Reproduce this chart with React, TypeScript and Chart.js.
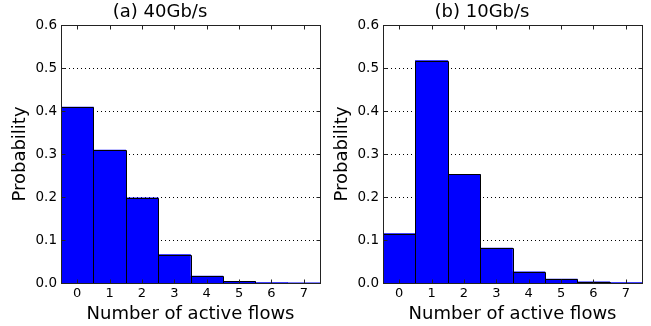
import React, { useEffect, useRef } from 'react';
import { Chart, registerables } from 'chart.js';

Chart.register(...registerables);

const categories = ['0', '1', '2', '3', '4', '5', '6', '7'];
const probs40 = [0.409, 0.309, 0.198, 0.066, 0.016, 0.004, 0.001, 0.0005];
const probs10 = [0.115, 0.517, 0.253, 0.081, 0.026, 0.009, 0.003, 0.001];
const yTicks = [0, 0.1, 0.2, 0.3, 0.4, 0.5, 0.6];
const titles = ['(a) 40Gb/s', '(b) 10Gb/s'];
const xTitle = 'Number of active flows';
const yTitle = 'Probability';

const FONT = "'DejaVu Sans', sans-serif";

const framePlugin = {
  id: 'frame',
  beforeDatasetsDraw(chart: any) {
    const { ctx, chartArea: a, scales } = chart;
    const y = scales.y;
    ctx.save();
    ctx.strokeStyle = '#000';
    ctx.lineWidth = 1;
    ctx.setLineDash([1, 3]);
    y.ticks.forEach((t: any) => {
      if (t.value <= 0 || t.value >= yTicks[yTicks.length - 1]) return;
      const py = Math.round(y.getPixelForValue(t.value)) + 0.5;
      ctx.beginPath();
      ctx.moveTo(a.left, py);
      ctx.lineTo(a.right, py);
      ctx.stroke();
    });
    ctx.restore();
  },
  afterDatasetsDraw(chart: any) {
    const { ctx, chartArea: a, scales } = chart;
    const x = scales.x;
    const y = scales.y;
    ctx.save();
    // bar outlines
    ctx.strokeStyle = '#000';
    ctx.lineWidth = 1;
    const meta = chart.getDatasetMeta(0);
    meta.data.forEach((bar: any) => {
      const p = bar.getProps(['x', 'y', 'width', 'base'], true);
      const l = Math.round(p.x - p.width / 2) + 0.5;
      const r = Math.round(p.x + p.width / 2) + 0.5;
      const t = Math.round(p.y) + 0.5;
      const b = Math.round(p.base) + 0.5;
      ctx.beginPath();
      ctx.moveTo(l, b);
      ctx.lineTo(l, t);
      ctx.lineTo(r, t);
      ctx.lineTo(r, b);
      ctx.stroke();
    });
    // frame
    ctx.strokeStyle = '#222';
    const L = Math.round(a.left) + 0.5;
    const R = Math.round(a.right) + 0.5;
    const T = Math.round(a.top) + 0.5;
    const B = Math.round(a.bottom) + 0.5;
    ctx.strokeRect(L, T, R - L, B - T);
    // inward ticks
    const tl = 4;
    categories.forEach((_, i) => {
      const px = Math.round(x.getPixelForValue(i)) + 0.5;
      ctx.beginPath();
      ctx.moveTo(px, B);
      ctx.lineTo(px, B - tl);
      ctx.moveTo(px, T);
      ctx.lineTo(px, T + tl);
      ctx.stroke();
    });
    yTicks.forEach((v) => {
      const py = Math.round(y.getPixelForValue(v)) + 0.5;
      ctx.beginPath();
      ctx.moveTo(L, py);
      ctx.lineTo(L + tl, py);
      ctx.moveTo(R, py);
      ctx.lineTo(R - tl, py);
      ctx.stroke();
    });
    ctx.restore();
  },
};

function makeConfig(values: number[], title: string, padRight: number): any {
  return {
    type: 'bar',
    data: {
      labels: categories,
      datasets: [
        {
          data: values,
          backgroundColor: '#0000ff',
          borderWidth: 0,
          barPercentage: 1,
          categoryPercentage: 1,
        },
      ],
    },
    options: {
      animation: false,
      responsive: false,
      events: [],
      layout: { padding: { left: 0, right: padRight, top: 0, bottom: 0 } },
      plugins: {
        legend: { display: false },
        tooltip: { enabled: false },
        title: {
          display: true,
          text: title,
          color: '#000',
          font: { family: FONT, size: 18, weight: 'normal' },
          padding: { top: 1.7, bottom: 1.7 },
        },
      },
      scales: {
        x: {
          grid: { display: false, drawTicks: false },
          border: { display: false },
          ticks: {
            color: '#000',
            font: { family: FONT, size: 13 },
            padding: 3,
            maxRotation: 0,
            autoSkip: false,
          },
          title: {
            display: true,
            text: xTitle,
            color: '#000',
            font: { family: FONT, size: 18 },
            padding: { top: 0, bottom: 1 },
          },
          afterFit: (s: any) => {
            s.height = 43;
          },
        },
        y: {
          min: yTicks[0],
          max: yTicks[yTicks.length - 1],
          grid: { display: false, drawTicks: false },
          border: { display: false },
          afterBuildTicks: (s: any) => {
            s.ticks = yTicks.map((v) => ({ value: v }));
          },
          ticks: {
            color: '#000',
            font: { family: FONT, size: 13.5 },
            padding: 4,
            callback: (v: any) => Number(v).toFixed(1),
          },
          title: {
            display: true,
            text: yTitle,
            color: '#000',
            font: { family: FONT, size: 18 },
            padding: { top: 10, bottom: 0 },
          },
          afterFit: (s: any) => {
            s.width = 61;
          },
        },
      },
    },
    plugins: [framePlugin],
  };
}

function Panel({ values, title, width, padRight }: { values: number[]; title: string; width: number; padRight: number }) {
  const ref = useRef<HTMLCanvasElement | null>(null);
  useEffect(() => {
    if (!ref.current) return;
    const chart = new Chart(ref.current, makeConfig(values, title, padRight));
    return () => chart.destroy();
  }, [values, title, padRight]);
  return <canvas ref={ref} width={width} height={326} style={{ display: 'block', width, height: 326 }} />;
}

export default function App() {
  return (
    <div
      style={{
        position: 'absolute',
        left: 0,
        top: 0,
        width: 651,
        height: 326,
        display: 'flex',
        background: '#fff',
      }}
    >
      <Panel values={probs40} title={titles[0]} width={322} padRight={2} />
      <Panel values={probs10} title={titles[1]} width={329} padRight={9} />
    </div>
  );
}
